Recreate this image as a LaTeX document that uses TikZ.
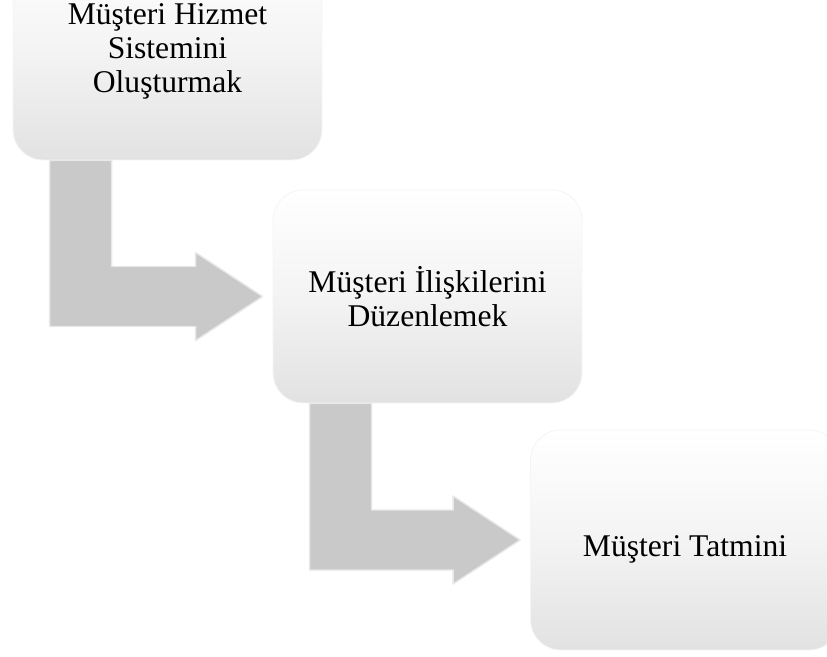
\documentclass[tikz,border=0pt]{standalone}
\usepackage{fontspec}
\setmainfont{Liberation Serif}
\usetikzlibrary{calc,positioning}
\definecolor{arrowgray}{HTML}{C9C9C9}
\definecolor{boxgray}{HTML}{E2E2E2}
\tikzset{
  every picture/.style={line join=round, line cap=round},
  stagebox/.style={shading=axis, top color=white, bottom color=boxgray, middle color=white!60!boxgray,
    draw=black!4, line width=0.5pt,
    rounded corners=0.6cm, minimum width=6.18cm, minimum height=4.34cm, align=center,
    font=\fontsize{18}{19.5}\selectfont},
  bendfill/.style={fill=arrowgray, draw=black!9, line width=0.8pt},
}
\newcommand{\bendarrow}[2]{%
  \coordinate (s) at ($(#1.south west)+(37,0)$);
  \coordinate (t) at ($(#2.west)+(-10,0)$);
  \filldraw[bendfill] (s) -- ++(62,0) |- ($(t)+(-67,-30)$) -- ++(0,-14) -- (t)
    -- ++(-67,44) -- ++(0,-14) -| (s) -- cycle;
}

\begin{document}
\begin{tikzpicture}[x=0.02cm,y=-0.02cm]
\useasboundingbox (0,0) rectangle (827,656);
\clip (0,0) rectangle (827,656);
\node[stagebox] (hizmet) at (167.5,51.5) {Müşteri Hizmet\\Sistemini\\Oluşturmak};
\node[stagebox,minimum height=4.26cm] (iliski) at (427.5,296.5) {Müşteri İlişkilerini\\Düzenlemek};
\node[stagebox,minimum height=4.4cm] (tatmin) at (685,540) {\\[0.1cm]Müşteri Tatmini};
\bendarrow{hizmet}{iliski}
\bendarrow{iliski}{tatmin}
\end{tikzpicture}
\end{document}
